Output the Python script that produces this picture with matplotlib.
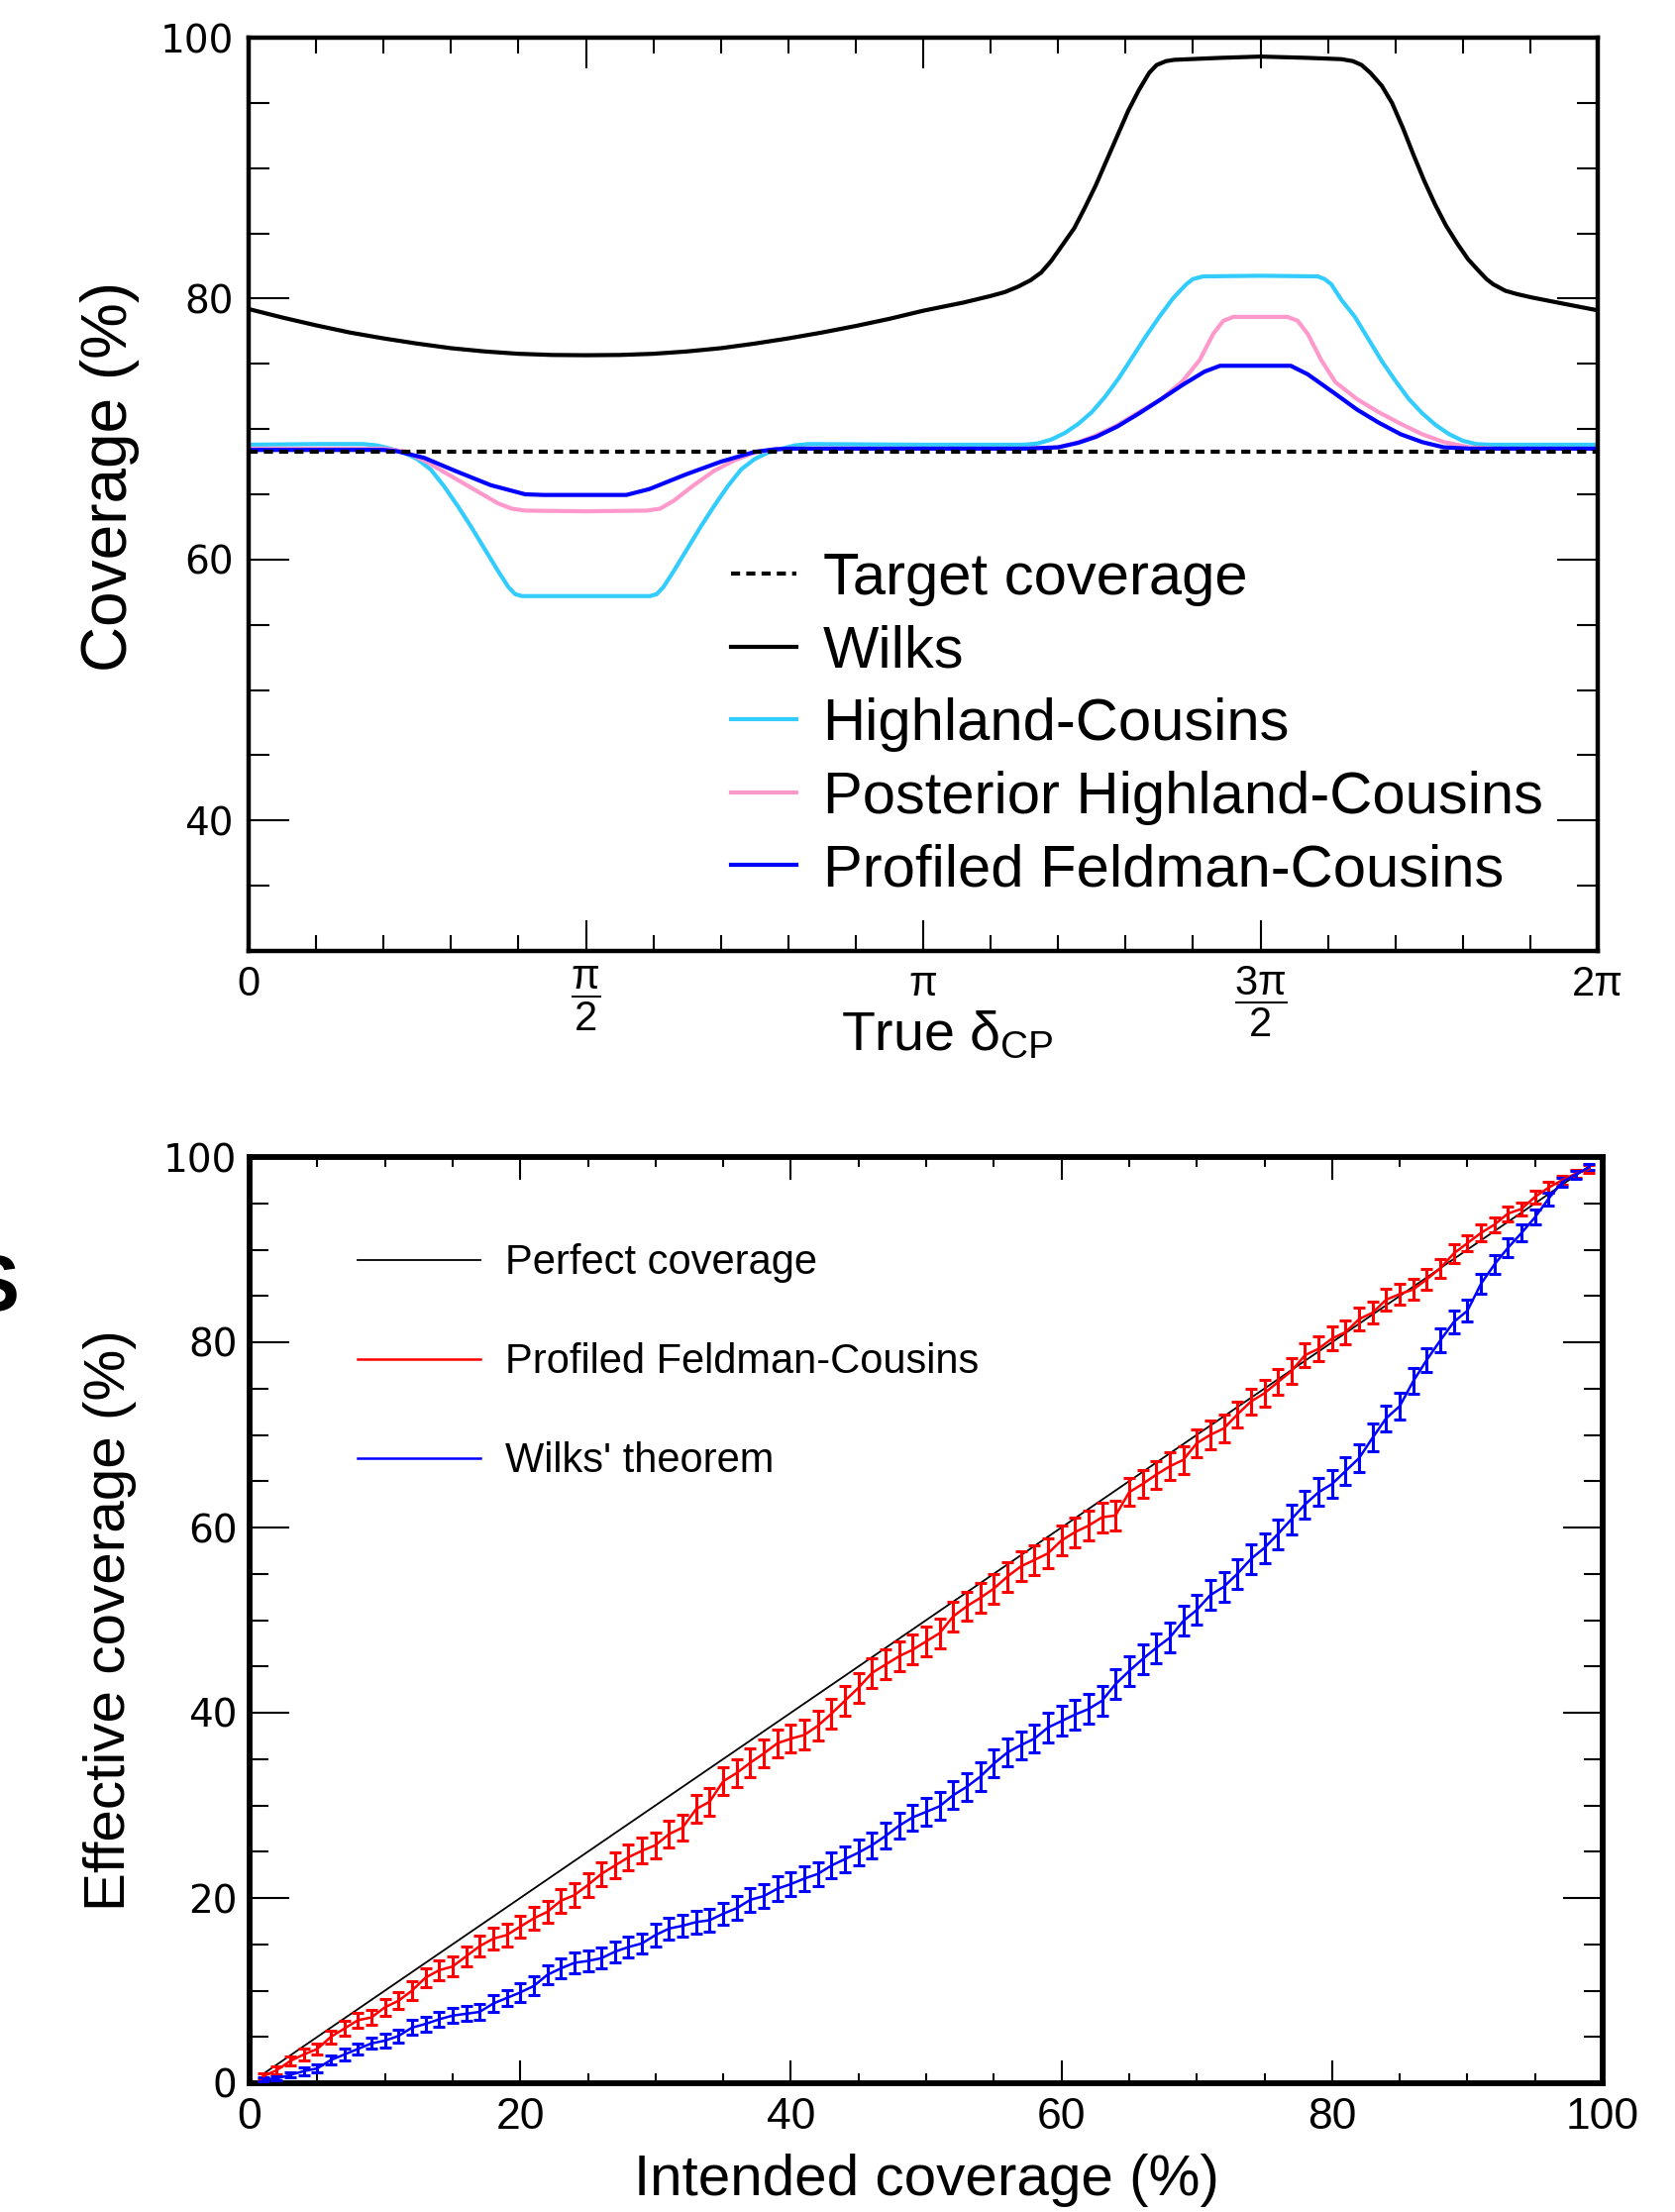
import numpy as np
import matplotlib
matplotlib.use("Agg")
import matplotlib.pyplot as plt
from matplotlib.ticker import MultipleLocator, FixedLocator

plt.rcParams['font.family'] = ['Liberation Sans', 'DejaVu Sans']
plt.rcParams['mathtext.fontset'] = 'custom'
plt.rcParams['mathtext.rm'] = 'Liberation Sans'
plt.rcParams['mathtext.it'] = 'Liberation Sans'
plt.rcParams['mathtext.bf'] = 'Liberation Sans:bold'

# ---------------- top panel: coverage vs true delta_CP (x in units of pi) ----------------
target = 68.27

wilks_x = [0.00, 0.05, 0.10, 0.15, 0.20, 0.25, 0.30, 0.35, 0.40, 0.45, 0.50, 0.55, 0.60,
           0.65, 0.70, 0.75, 0.80, 0.85, 0.90, 0.95, 1.00, 1.06, 1.10, 1.121, 1.14, 1.159,
           1.175, 1.19, 1.205, 1.224, 1.24, 1.256, 1.272, 1.288, 1.304, 1.32, 1.335, 1.346,
           1.36, 1.372, 1.44, 1.50, 1.57, 1.62, 1.637, 1.65, 1.663, 1.68, 1.695, 1.711,
           1.727, 1.743, 1.759, 1.775, 1.792, 1.808, 1.824, 1.835, 1.845, 1.863, 1.88,
           1.901, 1.95, 2.00]
wilks_y = [79.2, 78.55, 77.95, 77.4, 76.95, 76.55, 76.2, 75.95, 75.77, 75.68, 75.66, 75.68,
           75.77, 75.95, 76.2, 76.55, 76.95, 77.4, 77.9, 78.45, 79.07, 79.7, 80.2, 80.5,
           80.9, 81.4, 82.0, 82.9, 84.0, 85.4, 87.0, 88.7, 90.6, 92.5, 94.4, 96.0, 97.3,
           97.9, 98.2, 98.3, 98.45, 98.55, 98.45, 98.35, 98.2, 97.9, 97.3, 96.3, 95.0, 93.1,
           91.0, 89.0, 87.2, 85.6, 84.2, 83.0, 82.1, 81.5, 81.1, 80.6, 80.35, 80.1, 79.6,
           79.1]

hc_x = [0.00, 0.10, 0.17, 0.19, 0.21, 0.23, 0.25, 0.27, 0.29, 0.31, 0.33, 0.35, 0.37,
        0.385, 0.395, 0.405, 0.50, 0.595, 0.605, 0.615, 0.63, 0.65, 0.67, 0.69, 0.71,
        0.73, 0.75, 0.77, 0.79, 0.81, 0.83, 1.00, 1.15, 1.17, 1.19, 1.21, 1.23, 1.25,
        1.27, 1.29, 1.31, 1.33, 1.35, 1.37, 1.39, 1.40, 1.415, 1.50, 1.585, 1.595, 1.605,
        1.62, 1.64, 1.66, 1.68, 1.70, 1.72, 1.74, 1.76, 1.78, 1.80, 1.82, 1.84, 2.00]
hc_y = [68.8, 68.85, 68.85, 68.75, 68.5, 68.2, 67.7, 66.9, 65.6, 64.1, 62.5, 60.8, 59.1,
        57.9, 57.35, 57.2, 57.2, 57.2, 57.35, 57.9, 59.1, 60.8, 62.5, 64.1, 65.6, 66.9,
        67.7, 68.2, 68.5, 68.75, 68.85, 68.8, 68.8, 68.9, 69.2, 69.7, 70.4, 71.3, 72.5,
        73.9, 75.5, 77.1, 78.6, 80.0, 81.1, 81.5, 81.7, 81.75, 81.7, 81.5, 81.1, 79.9,
        78.6, 76.9, 75.2, 73.7, 72.3, 71.2, 70.3, 69.6, 69.1, 68.85, 68.8, 68.8]

phc_x = [0.00, 0.20, 0.23, 0.26, 0.29, 0.32, 0.35, 0.37, 0.39, 0.41, 0.50, 0.59, 0.61,
         0.63, 0.66, 0.69, 0.72, 0.75, 0.78, 0.80, 1.15, 1.20, 1.23, 1.256, 1.288, 1.32,
         1.353, 1.385, 1.41, 1.43, 1.445, 1.46, 1.54, 1.555, 1.57, 1.59, 1.611, 1.643,
         1.675, 1.708, 1.74, 1.772, 1.81, 1.85, 2.00]
phc_y = [68.5, 68.5, 68.3, 67.6, 66.7, 65.8, 64.9, 64.3, 63.9, 63.75, 63.7, 63.75, 63.9,
         64.5, 65.7, 66.8, 67.6, 68.2, 68.45, 68.5, 68.5, 68.6, 69.0, 69.5, 70.3, 71.3,
         72.3, 73.7, 75.3, 77.3, 78.3, 78.6, 78.6, 78.3, 77.3, 75.3, 73.6, 72.3, 71.3,
         70.4, 69.6, 69.0, 68.6, 68.5, 68.5]

pfc_x = [0.00, 0.20, 0.22, 0.26, 0.306, 0.359, 0.41, 0.437, 0.56, 0.594, 0.647, 0.70,
         0.75, 0.78, 0.80, 1.15, 1.20, 1.23, 1.256, 1.288, 1.32, 1.353, 1.385, 1.417,
         1.44, 1.545, 1.57, 1.611, 1.643, 1.675, 1.708, 1.74, 1.772, 1.81, 2.00]
pfc_y = [68.4, 68.4, 68.3, 67.8, 66.8, 65.7, 65.0, 64.95, 64.95, 65.4, 66.5, 67.5,
         68.25, 68.45, 68.5, 68.5, 68.6, 68.95, 69.4, 70.2, 71.2, 72.3, 73.4, 74.4,
         74.85, 74.85, 74.2, 72.7, 71.5, 70.5, 69.6, 69.0, 68.6, 68.5, 68.5]

# ---------------- bottom panel: effective vs intended coverage ----------------
intended = list(range(1, 100))
perfect = [1, 99]

pfc_eff = [0.75, 1.4, 2.4, 3.1, 3.7, 5.0, 5.9, 6.8, 7.1, 8.2,
           8.9, 10.0, 11.4, 12.2, 12.6, 13.7, 14.8, 15.6, 16.0, 16.9,
           17.8, 18.5, 19.7, 20.3, 21.4, 22.6, 23.5, 24.4, 25.1, 25.7,
           26.9, 27.6, 29.6, 30.4, 32.6, 33.5, 34.6, 35.6, 36.7, 37.2,
           37.6, 38.6, 39.9, 41.3, 42.7, 44.3, 45.2, 46.1, 46.8, 47.7,
           48.6, 50.4, 51.5, 52.4, 53.4, 54.7, 55.8, 56.5, 57.2, 58.6,
           59.5, 60.2, 61.1, 61.3, 63.8, 64.7, 65.7, 66.6, 67.3, 69.1,
           70.0, 70.7, 72.2, 73.6, 74.5, 75.7, 76.9, 78.6, 79.3, 80.4,
           81.1, 82.5, 83.2, 84.6, 85.2, 85.7, 86.8, 88.0, 89.6, 90.7,
           91.8, 92.7, 93.9, 94.4, 95.7, 96.7, 97.5, 98.2, 98.7]
pfc_err = [0.3, 0.4, 0.5, 0.6, 0.6, 0.7, 0.8, 0.8, 0.8, 0.9,
           0.9, 1.0, 1.0, 1.1, 1.1, 1.1, 1.1, 1.2, 1.2, 1.2,
           1.2, 1.2, 1.3, 1.3, 1.3, 1.3, 1.4, 1.4, 1.4, 1.4,
           1.4, 1.4, 1.5, 1.5, 1.5, 1.5, 1.5, 1.5, 1.5, 1.5,
           1.6, 1.6, 1.6, 1.6, 1.6, 1.6, 1.6, 1.6, 1.6, 1.6,
           1.6, 1.6, 1.6, 1.6, 1.6, 1.6, 1.6, 1.6, 1.6, 1.6,
           1.6, 1.6, 1.6, 1.6, 1.5, 1.5, 1.5, 1.5, 1.5, 1.5,
           1.5, 1.5, 1.4, 1.4, 1.4, 1.4, 1.4, 1.3, 1.3, 1.3,
           1.3, 1.2, 1.2, 1.2, 1.1, 1.1, 1.1, 1.0, 1.0, 0.9,
           0.9, 0.8, 0.8, 0.7, 0.7, 0.6, 0.5, 0.4, 0.4]

wilks_eff = [0.4, 0.5, 0.9, 1.3, 1.6, 2.5, 3.1, 3.7, 4.3, 4.6,
             5.1, 6.0, 6.4, 6.9, 7.3, 7.5, 7.7, 8.6, 9.2, 9.8,
             10.5, 11.7, 12.4, 13.0, 13.2, 13.5, 14.2, 14.7, 15.1, 16.0,
             16.7, 17.0, 17.4, 17.6, 18.3, 18.9, 19.8, 20.2, 21.0, 21.5,
             22.1, 22.6, 23.5, 24.2, 24.9, 25.7, 26.7, 27.8, 28.7, 29.3,
             29.9, 31.1, 32.0, 33.1, 34.5, 35.7, 36.5, 37.2, 38.4, 39.1,
             39.8, 40.4, 41.3, 43.1, 44.5, 45.8, 47.0, 48.1, 49.9, 51.1,
             52.7, 53.6, 55.0, 56.6, 57.8, 59.3, 60.9, 62.5, 63.8, 64.7,
             66.1, 67.5, 69.7, 71.8, 73.1, 75.8, 78.1, 80.2, 82.2, 83.4,
             86.3, 88.4, 90.2, 91.8, 93.5, 95.5, 97.3, 98.1, 98.9]
wilks_err = [0.2, 0.2, 0.3, 0.4, 0.4, 0.5, 0.6, 0.6, 0.6, 0.7,
             0.7, 0.8, 0.8, 0.8, 0.8, 0.8, 0.9, 0.9, 0.9, 1.0,
             1.0, 1.0, 1.1, 1.1, 1.1, 1.1, 1.1, 1.1, 1.1, 1.2,
             1.2, 1.2, 1.2, 1.2, 1.2, 1.3, 1.3, 1.3, 1.3, 1.3,
             1.3, 1.3, 1.4, 1.4, 1.4, 1.4, 1.4, 1.4, 1.4, 1.5,
             1.5, 1.5, 1.5, 1.5, 1.5, 1.5, 1.5, 1.5, 1.6, 1.6,
             1.6, 1.6, 1.6, 1.6, 1.6, 1.6, 1.6, 1.6, 1.6, 1.6,
             1.6, 1.6, 1.6, 1.6, 1.6, 1.6, 1.6, 1.5, 1.5, 1.5,
             1.5, 1.5, 1.5, 1.4, 1.4, 1.4, 1.3, 1.3, 1.2, 1.2,
             1.1, 1.0, 1.0, 0.9, 0.8, 0.7, 0.5, 0.4, 0.3]

cyan = '#33CCFF'
pink = '#FF99CC'

fig = plt.figure(figsize=(16.91, 22.33), dpi=100)
ax1 = fig.add_axes([251 / 1691, 1 - 960 / 2233, 1362 / 1691, 922 / 2233])
ax2 = fig.add_axes([252 / 1691, 1 - 2103 / 2233, 1366 / 1691, 935 / 2233])

# ---- top panel ----
lw = 3.0
l_w, = ax1.plot(np.array(wilks_x) * np.pi, wilks_y, color='black', lw=lw)
l_hc, = ax1.plot(np.array(hc_x) * np.pi, hc_y, color=cyan, lw=lw)
l_phc, = ax1.plot(np.array(phc_x) * np.pi, phc_y, color=pink, lw=lw)
l_pfc, = ax1.plot(np.array(pfc_x) * np.pi, pfc_y, color='#0000FF', lw=lw)
l_t = ax1.axhline(target, color='black', lw=lw, ls=(0, (2.2, 1.5)), zorder=5)

ax1.set_xlim(0, 2 * np.pi)
ax1.set_ylim(30, 100)
ax1.xaxis.set_major_locator(FixedLocator(np.arange(5) * np.pi / 2))
ax1.xaxis.set_minor_locator(FixedLocator(np.arange(21) * np.pi / 10))
ax1.set_xticklabels(['0', r'$\dfrac{\pi}{2}$', 'π', r'$\dfrac{3\pi}{2}$', '2π'])
ax1.yaxis.set_major_locator(MultipleLocator(20))
ax1.yaxis.set_minor_locator(MultipleLocator(5))
ax1.tick_params(which='both', direction='in', top=True, right=True, width=1.5)
ax1.tick_params(axis='y', which='major', length=29.5, pad=11, labelsize=28,
                labelfontfamily='DejaVu Sans')
ax1.tick_params(axis='y', which='minor', length=15)
ax1.tick_params(axis='x', which='major', length=22, pad=10, labelsize=30)
ax1.tick_params(axis='x', which='minor', length=11.5)
for s in ax1.spines.values():
    s.set_linewidth(3.2)

ax1.set_ylabel('Coverage (%)', fontsize=46, va='center')
ax1.yaxis.set_label_coords(-0.103, 0.52)
ax1.set_xlabel(r'True $\delta_{\mathrm{CP}}$', fontsize=40, va='center')
ax1.xaxis.set_label_coords(0.518, -0.094)

ax1.legend([l_t, l_w, l_hc, l_phc, l_pfc],
           ['Target coverage', 'Wilks', 'Highland-Cousins',
            'Posterior Highland-Cousins', 'Profiled Feldman-Cousins'],
           loc='upper left', bbox_to_anchor=(0.3576, 0.437), frameon=False,
           fontsize=43, handlelength=1.1, handletextpad=0.45, labelspacing=0.31,
           borderpad=0, borderaxespad=0)

# ---- bottom panel ----
l_perf, = ax2.plot(perfect, perfect, color='black', lw=1.3, zorder=2)
eb_r = ax2.errorbar(intended, pfc_eff, yerr=pfc_err, color='#FF0000', lw=1.8,
                    elinewidth=2.2, capsize=4.3, capthick=2.2, zorder=3)
eb_b = ax2.errorbar(intended, wilks_eff, yerr=wilks_err, color='#0000FF', lw=1.8,
                    elinewidth=2.2, capsize=4.3, capthick=2.2, zorder=3)

ax2.set_xlim(0, 100)
ax2.set_ylim(0, 100)
ax2.xaxis.set_major_locator(MultipleLocator(20))
ax2.xaxis.set_minor_locator(MultipleLocator(5))
ax2.yaxis.set_major_locator(MultipleLocator(20))
ax2.yaxis.set_minor_locator(MultipleLocator(5))
ax2.tick_params(which='both', direction='in', top=True, right=True, width=1.5)
ax2.tick_params(axis='y', which='major', length=29, pad=9, labelsize=28,
                labelfontfamily='DejaVu Sans')
ax2.tick_params(axis='y', which='minor', length=14)
ax2.tick_params(axis='x', which='major', length=16.5, pad=10, labelsize=32)
ax2.tick_params(axis='x', which='minor', length=7)
for s in ax2.spines.values():
    s.set_linewidth(4.2)

ax2.set_ylabel('Effective coverage (%)', fontsize=42, va='center')
ax2.yaxis.set_label_coords(-0.103, 0.50)
ax2.set_xlabel('Intended coverage (%)', fontsize=42, va='center')
ax2.xaxis.set_label_coords(0.50, -0.105)

ax2.legend([l_perf, eb_r.lines[0], eb_b.lines[0]],
           ['Perfect coverage', 'Profiled Feldman-Cousins', "Wilks' theorem"],
           loc='upper left', bbox_to_anchor=(0.080, 0.9065), frameon=False,
           fontsize=30, handlelength=2.97, handletextpad=0.6, labelspacing=1.44,
           borderpad=0, borderaxespad=0)

# fragment of a cut-off label at the left edge
fig.text(-0.004, 1 - 1303 / 2233, 'S', fontsize=57, fontweight='bold',
         ha='center', va='center')

fig.savefig('out.png', dpi=100)
